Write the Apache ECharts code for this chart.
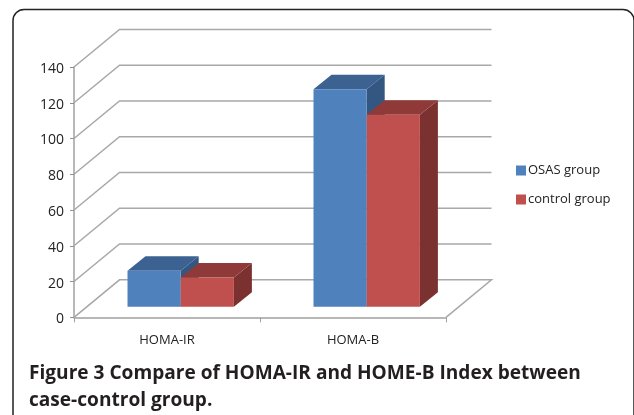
<!DOCTYPE html>
<html>
<head>
<meta charset="utf-8">
<style>html,body{margin:0;padding:0;background:#fff}#c{width:634px;height:415px}</style>
<script src="https://cdn.jsdelivr.net/npm/echarts@6/dist/echarts.min.js"></script>
</head>
<body>
<div id="c"></div>
<script>
var categories = ['HOMA-IR', 'HOMA-B'];
var osasValues = [20.1, 121.6];
var controlValues = [16.4, 107.3];
var yTicks = [0, 20, 40, 60, 80, 100, 120, 140];
var seriesNames = ['OSAS group', 'control group'];
var captionLines = ['Figure 3 Compare of HOMA-IR and HOME-B Index between', 'case-control group.'];

// projection style of the pseudo-3D box
var WALL_DX = 45.5, WALL_DY = 37.5;
var BASE_DX = 13.7, BASE_DY = 10.6;
var DEPTH_DX = 18, DEPTH_DY = 14.5;
var BAR_W = 53.2;
var FONT = '"Open Sans", "Noto Sans", sans-serif';

function renderWall(params, api) {
  var left = api.coord([0, api.value(0)]);
  var cw = api.size([1, 0])[0];
  var x0 = left[0] - cw / 2, x1 = x0 + cw * categories.length, y = left[1];
  var pts = [[x0, y], [x0 + WALL_DX, y - WALL_DY], [x1 + WALL_DX, y - WALL_DY]];
  if (api.value(0) === 0) pts.push([x1, y]);
  return { type: 'polyline', shape: { points: pts },
    style: { stroke: '#a8a8a8', lineWidth: 1.5, fill: 'none' } };
}

function makeBar(offsetIndex, front, top, side) {
  return function (params, api) {
    var c = api.coord([api.value(0), api.value(1)]);
    var b = api.coord([api.value(0), 0]);
    var x = c[0] + BASE_DX + (offsetIndex - 1) * BAR_W;
    var yT = c[1] - BASE_DY, yB = b[1] - BASE_DY, r = x + BAR_W;
    return { type: 'group', children: [
      { type: 'polygon', shape: { points: [[r, yT], [r + DEPTH_DX, yT - DEPTH_DY], [r + DEPTH_DX, yB - DEPTH_DY], [r, yB]] }, style: { fill: side } },
      { type: 'polygon', shape: { points: [[x, yT], [x + DEPTH_DX, yT - DEPTH_DY], [r + DEPTH_DX, yT - DEPTH_DY], [r, yT]] }, style: { fill: top } },
      { type: 'rect', shape: { x: x, y: yT, width: BAR_W, height: yB - yT }, style: { fill: front } }
    ] };
  };
}

var chart = echarts.init(document.getElementById('c'), null, { renderer: 'canvas' });
chart.setOption({
  animation: false,
  backgroundColor: '#fff',
  grid: { left: 74, right: 188, top: 67, bottom: 97.7 },
  title: {
    text: captionLines.join('\n'), left: 24, top: 355,
    textStyle: { fontFamily: FONT, fontSize: 19.1, fontWeight: 'bold', color: '#231f20', lineHeight: 27 }
  },
  legend: {
    orient: 'vertical', left: 511, top: 159, itemWidth: 10, itemHeight: 10, itemGap: 16,
    data: [
      { name: seriesNames[0], icon: 'rect', itemStyle: { color: '#4f81bd' } },
      { name: seriesNames[1], icon: 'rect', itemStyle: { color: '#c0504d' } }
    ],
    textStyle: { fontFamily: FONT, fontSize: 13, color: '#222', padding: [0, 0, 0, -3] }
  },
  xAxis: {
    type: 'category', data: categories,
    axisLine: { lineStyle: { color: '#a0a0a0', width: 1.5 } },
    axisTick: { show: true, length: 5, lineStyle: { color: '#a0a0a0', width: 1 } },
    axisLabel: { margin: 16, fontFamily: FONT, fontSize: 13, color: '#222' }
  },
  yAxis: {
    type: 'value', min: 0, max: 140, interval: 20,
    axisLine: { show: true, lineStyle: { color: '#a0a0a0', width: 1.5 } },
    axisTick: { show: true, length: 4, lineStyle: { color: '#909090', width: 1 } },
    splitLine: { show: false },
    axisLabel: { margin: 10, fontFamily: FONT, fontSize: 14, color: '#222', verticalAlign: 'top', lineHeight: 4 }
  },
  graphic: [{
    type: 'rect', z: -1, silent: true,
    shape: { x: 13, y: 9.5, width: 621, height: 430, r: 11 },
    style: { fill: 'none', stroke: '#222', lineWidth: 1.5 }
  }],
  series: [
    { type: 'custom', name: 'wall', coordinateSystem: 'cartesian2d', clip: false, silent: true, z: 1,
      renderItem: renderWall, data: yTicks.map(function (t) { return [t]; }), encode: { y: 0 } },
    { type: 'custom', name: seriesNames[0], coordinateSystem: 'cartesian2d', clip: false, z: 2,
      itemStyle: { color: '#4f81bd' },
      renderItem: makeBar(0, '#4f81bd', '#3b6290', '#335781'),
      data: osasValues.map(function (v, i) { return [i, v]; }), encode: { x: 0, y: 1 } },
    { type: 'custom', name: seriesNames[1], coordinateSystem: 'cartesian2d', clip: false, z: 3,
      itemStyle: { color: '#c0504d' },
      renderItem: makeBar(1, '#c0504d', '#8f3a38', '#7b312f'),
      data: controlValues.map(function (v, i) { return [i, v]; }), encode: { x: 0, y: 1 } }
  ]
});
</script>
</body>
</html>
